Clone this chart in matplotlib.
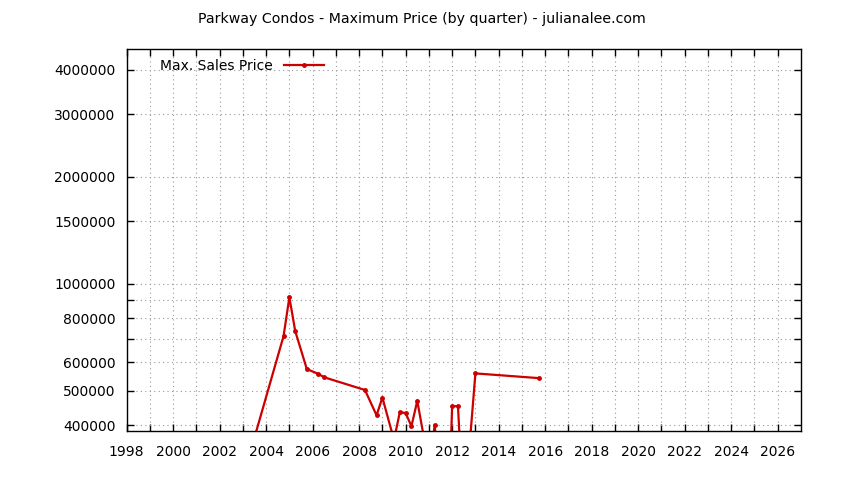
import numpy as np
import matplotlib
matplotlib.use("Agg")
import matplotlib.pyplot as plt
from matplotlib.ticker import FixedLocator, NullLocator

# quarterly max sale prices (quarter start as fractional year)
quarters = [2003.5, 2004.75, 2005.0, 2005.25, 2005.75, 2006.25, 2006.5,
            2008.25, 2008.75, 2009.0, 2009.5, 2009.75, 2010.0, 2010.25,
            2010.5, 2010.75, 2011.0, 2011.25, 2011.5, 2011.75, 2012.0,
            2012.25, 2012.5, 2013.0, 2015.75]
max_price = [369000, 712000, 916000, 736000, 575000, 557000, 545000,
             502000, 426000, 478000, 363000, 435000, 432000, 397000,
             468000, 380000, 300000, 400000, 250000, 150000, 452000,
             452000, 220000, 559000, 542000]

year_ticks = list(range(1998, 2027))
year_labels = [str(y) if y % 2 == 0 else "" for y in year_ticks]
price_ticks = [400000, 500000, 600000, 700000, 800000, 900000, 1000000,
               1500000, 2000000, 3000000, 4000000]
price_labels = ["400000", "500000", "600000", "", "800000", "", "1000000",
                "1500000", "2000000", "3000000", "4000000"]

red = "#cc0000"

fig = plt.figure(figsize=(8.44, 4.8), dpi=100)
ax = fig.add_axes([0.150, 0.102, 0.799, 0.796])

ax.plot(quarters, max_price, color=red, lw=1.6, marker="o", ms=2.5,
        label="Max. Sales Price")

ax.set_yscale("log")
ax.set_xlim(1998.0, 2027.0)
ax.set_ylim(384700, 4580000)

ax.set_xticks(year_ticks)
ax.set_xticklabels(year_labels)
ax.yaxis.set_major_locator(FixedLocator(price_ticks))
ax.set_yticklabels(price_labels)
ax.yaxis.set_minor_locator(NullLocator())
ax.xaxis.set_minor_locator(NullLocator())

ax.tick_params(direction="in", length=5, width=1, top=True, right=True,
               labelsize=10, colors="black")
ax.tick_params(axis="x", pad=10)
ax.tick_params(axis="y", pad=8)

ax.grid(True, color="#999999", lw=0.8, linestyle=(0, (1, 3)))
for s in ax.spines.values():
    s.set_linewidth(1)
    s.set_color("black")

fig.suptitle("Parkway Condos - Maximum Price (by quarter) - julianalee.com",
             x=0.5, y=0.974, fontsize=10.2, va="top")

leg = ax.legend(loc="upper left", frameon=False, markerfirst=False,
                fontsize=10, handlelength=2.9, borderaxespad=0.3,
                bbox_to_anchor=(0.035, 1.0))

fig.savefig("out.png", dpi=100)
